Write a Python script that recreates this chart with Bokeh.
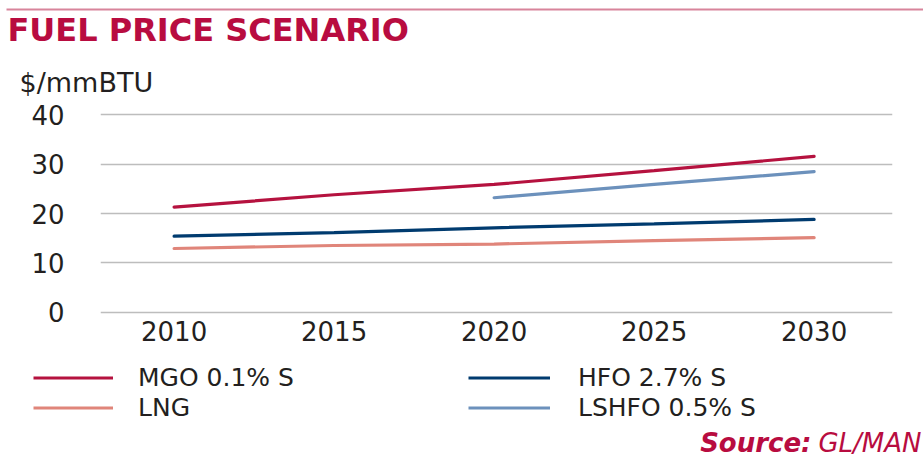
from bokeh.plotting import figure
from bokeh.models import Range1d, FixedTicker, Label, Legend, LegendItem, BoxAnnotation
from bokeh.embed import file_html
from bokeh.resources import INLINE

# ---- data ----
years = [2010, 2015, 2020, 2025, 2030]
mgo = [21.3, 23.8, 25.9, 28.7, 31.6]
hfo = [15.4, 16.1, 17.1, 17.9, 18.8]
lng = [12.9, 13.5, 13.8, 14.5, 15.1]
lshfo_years = [2020, 2025, 2030]
lshfo = [23.2, 25.9, 28.5]
x_ticks = [2010, 2015, 2020, 2025, 2030]
y_ticks = [0, 10, 20, 30, 40]

CRIMSON = "#B80C40"
TEXT = "#231F20"
FONT = "DejaVu Sans"
W = 923

series = [
    ("MGO 0.1% S", years, mgo, "#B5123F"),
    ("HFO 2.7% S", years, hfo, "#003B6F"),
    ("LNG", years, lng, "#E0857A"),
    ("LSHFO 0.5% S", lshfo_years, lshfo, "#6C91BC"),
]


def blank(height):
    f = figure(width=W, height=height, output_backend="svg", toolbar_location=None,
               x_range=Range1d(0, 1), y_range=Range1d(0, 1),
               x_axis_location=None, y_axis_location=None, min_border=0)
    f.outline_line_color = None
    f.xgrid.visible = False
    f.ygrid.visible = False
    return f


# ---- top: rule, title, unit ----
top = blank(100)
top.add_layout(BoxAnnotation(left=6, right=W, top=92, bottom=90,
                             left_units="screen", right_units="screen",
                             top_units="screen", bottom_units="screen",
                             fill_color="#D8849B", fill_alpha=1, line_alpha=0))
top.add_layout(Label(x=7, y=70.7, x_units="screen", y_units="screen",
                     text="FUEL PRICE SCENARIO", text_font=FONT, text_font_style="bold",
                     text_font_size="32px", text_color=CRIMSON, text_baseline="alphabetic"))
top.add_layout(Label(x=19, y=17.6, x_units="screen", y_units="screen",
                     text="$/mmBTU", text_font=FONT, text_font_size="27px",
                     text_color=TEXT, text_baseline="alphabetic"))

# ---- main chart ----
p = figure(width=W, height=250, output_backend="svg", toolbar_location=None,
           x_range=Range1d(2007.7, 2032.45), y_range=Range1d(-0.5, 40.5),
           min_border_left=100, min_border_right=31, min_border_top=12,
           min_border_bottom=36)
p.outline_line_color = None
p.xgrid.visible = False
p.ygrid.grid_line_color = "#BDBDBD"
p.ygrid.grid_line_width = 1.5
p.ygrid.ticker = FixedTicker(ticks=y_ticks)
for ax in (p.xaxis[0], p.yaxis[0]):
    ax.axis_line_color = None
    ax.major_tick_line_color = None
    ax.minor_tick_line_color = None
    ax.major_label_text_font = FONT
    ax.major_label_text_font_size = "26px"
    ax.major_label_text_color = TEXT
p.xaxis.ticker = FixedTicker(ticks=x_ticks)
p.yaxis.ticker = FixedTicker(ticks=y_ticks)
p.xaxis.major_label_standoff = 0
p.yaxis.major_label_standoff = 30

for name, xs, ys, col in series:
    p.line(xs, ys, line_width=3.2, line_color=col, line_cap="round")

# ---- bottom: legend and source ----
bot = blank(109)
dummies = {}
for name, xs, ys, col in series:
    dummies[name] = bot.line(xs, ys, line_width=3.2, line_color=col, visible=False)


def make_legend(names, loc, gw, standoff):
    return Legend(items=[LegendItem(label=n, renderers=[dummies[n]]) for n in names],
                  location=loc, orientation="vertical",
                  padding=0, margin=0, spacing=1, glyph_width=gw, glyph_height=25,
                  label_height=25, label_standoff=standoff,
                  label_text_font=FONT, label_text_font_size="25px",
                  label_text_color=TEXT, border_line_alpha=0,
                  background_fill_alpha=0)


bot.add_layout(make_legend(["MGO 0.1% S", "LNG"], (33, 37), 80, 25))
bot.add_layout(make_legend(["HFO 2.7% S", "LSHFO 0.5% S"], (468, 37), 82, 28))
bot.add_layout(Label(x=811, y=16.5, x_units="screen", y_units="screen",
                     text="Source:", text_font=FONT, text_font_style="bold italic",
                     text_font_size="26px", text_color=CRIMSON, text_baseline="alphabetic",
                     text_align="right"))
bot.add_layout(Label(x=921, y=16.5, x_units="screen", y_units="screen",
                     text="GL/MAN", text_font=FONT, text_font_style="italic",
                     text_font_size="26px", text_color=CRIMSON, text_baseline="alphabetic",
                     text_align="right"))

open("out.html", "w").write(file_html([top, p, bot], INLINE))
